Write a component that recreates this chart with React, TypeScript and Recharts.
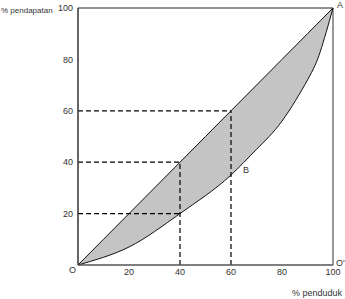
import React from 'react';
import { ComposedChart, Area, Line, XAxis, YAxis, ReferenceLine } from 'recharts';

// % penduduk (cumulative population share)
const penduduk = [0, 10, 20, 30, 40, 50, 60, 70, 80, 90, 95, 100];
// equality line (diagonal O -> A)
const garisPemerataan = [0, 10, 20, 30, 40, 50, 60, 70, 80, 90, 95, 100];
// Lorenz curve (% pendapatan)
const kurvaLorenz = [0, 3, 7, 13, 20, 27, 35, 45, 56, 72, 83, 100];
const tickValues = [20, 40, 60, 80, 100];

const chartData = penduduk.map((p, i) => ({
  x: p,
  diag: garisPemerataan[i],
  lorenz: kurvaLorenz[i],
  band: [kurvaLorenz[i], garisPemerataan[i]],
}));

const font = '"Liberation Sans", Arial, sans-serif';
const txt = { fontFamily: font, fontSize: 9, fill: '#333' };

const App: React.FC = () => {
  return (
    <div style={{ position: 'absolute', left: 0, top: 0, width: 345, height: 299, background: '#fff' }}>
      <ComposedChart
        width={345}
        height={299}
        data={chartData}
        margin={{ top: 8, right: 12, bottom: 4, left: 0 }}
      >
        <XAxis
          dataKey="x"
          type="number"
          domain={[0, 100]}
          ticks={tickValues}
          tickLine={false}
          tickSize={4}
          tickMargin={0}
          height={30}
          stroke="#555"
          tick={txt}
          axisLine={{ stroke: '#555', strokeWidth: 1.5 }}
        />
        <YAxis
          type="number"
          domain={[0, 100]}
          ticks={tickValues}
          tickLine={false}
          tickSize={2}
          tickMargin={3}
          width={78}
          tick={txt}
          axisLine={{ stroke: '#333', strokeWidth: 1.5 }}
        />
        <Area
          dataKey="band"
          type="natural"
          fill="#c4c4c4"
          fillOpacity={1}
          stroke="none"
          isAnimationActive={false}
        />
        <ReferenceLine y={100} stroke="#222" strokeWidth={1.2} />
        <ReferenceLine x={100} stroke="#777" strokeWidth={1.5} />
        <ReferenceLine segment={[{ x: 0, y: 60 }, { x: 60, y: 60 }]} stroke="#000" strokeWidth={1.2} strokeDasharray="5 3" />
        <ReferenceLine segment={[{ x: 0, y: 40 }, { x: 40, y: 40 }]} stroke="#000" strokeWidth={1.2} strokeDasharray="5 3" />
        <ReferenceLine segment={[{ x: 0, y: 20 }, { x: 40, y: 20 }]} stroke="#000" strokeWidth={1.2} strokeDasharray="5 3" />
        <ReferenceLine segment={[{ x: 40, y: 0 }, { x: 40, y: 40 }]} stroke="#000" strokeWidth={1.2} strokeDasharray="5 3" />
        <ReferenceLine segment={[{ x: 60, y: 0 }, { x: 60, y: 60 }]} stroke="#000" strokeWidth={1.2} strokeDasharray="5 3" />
        <Line dataKey="diag" type="linear" stroke="#111" strokeWidth={1} dot={false} isAnimationActive={false} />
        <Line dataKey="lorenz" type="natural" stroke="#111" strokeWidth={1} dot={false} isAnimationActive={false} />
        <text x={1} y={13} fontFamily={font} fontSize={8} fill="#333">% pendapatan</text>
        <text x={69} y={273} fontFamily={font} fontSize={9} fill="#333">O</text>
        <text x={336} y={266} fontFamily={font} fontSize={9} fill="#333">O'</text>
        <text x={337} y={8} fontFamily={font} fontSize={9} fill="#333">A</text>
        <text x={243} y={173} fontFamily={font} fontSize={9} fill="#333">B</text>
        <text x={292} y={296} fontFamily={font} fontSize={9} fill="#333">% penduduk</text>
      </ComposedChart>
    </div>
  );
};

export default App;
